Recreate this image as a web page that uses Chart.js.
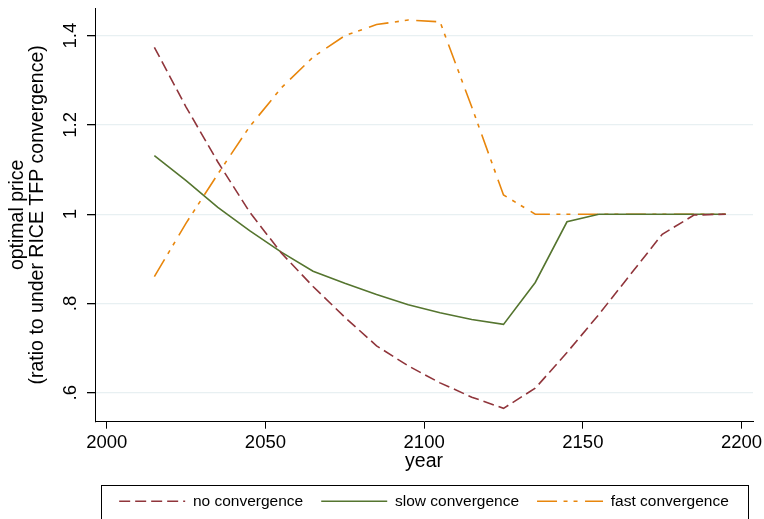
<!DOCTYPE html>
<html lang="en">
<head>
    <meta charset="UTF-8">
    <title>Optimal price</title>
    <script src="https://cdn.jsdelivr.net/npm/chart.js"></script>
    <style>
        body { margin: 0; background: #fff; }
    </style>
</head>
<body>
    <canvas id="priceChart" width="764" height="519"></canvas>

    <script>
        const years = [2015, 2025, 2035, 2045, 2055, 2065, 2075, 2085, 2095, 2105,
                       2115, 2125, 2135, 2145, 2155, 2165, 2175, 2185, 2195];
        const noConvergence = [1.374, 1.24, 1.117, 1.005, 0.913, 0.838, 0.769, 0.705, 0.66, 0.622,
                               0.59, 0.565, 0.61, 0.69, 0.775, 0.865, 0.955, 0.998, 1.0];
        const slowConvergence = [1.131, 1.075, 1.015, 0.963, 0.915, 0.872, 0.845, 0.82, 0.797, 0.779,
                                 0.764, 0.753, 0.847, 0.983, 1.0, 1.0, 1.0, 1.0, 1.0];
        const fastConvergence = [0.86, 0.98, 1.09, 1.196, 1.283, 1.352, 1.40, 1.425, 1.435, 1.431,
                                 1.24, 1.043, 1.0, 1.0, 1.0, 1.0, 1.0, 1.0, 1.0];
        const xTicks = [2000, 2050, 2100, 2150, 2200];
        const yTicks = [0.6, 0.8, 1, 1.2, 1.4];
        const yTickLabels = ['.6', '.8', '1', '1.2', '1.4'];

        const font = 'Liberation Sans, Arial, Helvetica, sans-serif';

        const series = (vals) => years.map((y, i) => ({ x: y, y: vals[i] }));

        // box around the legend, like Stata draws it
        const legendFrame = {
            id: 'legendFrame',
            afterDraw(chart) {
                const lg = chart.legend;
                const ctx = chart.ctx;
                ctx.save();
                ctx.strokeStyle = '#000';
                ctx.lineWidth = 1;
                ctx.strokeRect(Math.round(lg.left + 6) + 0.5, Math.round(lg.top + 9) + 0.5,
                               Math.round(lg.right - lg.left - 11), 60);
                ctx.restore();
            }
        };

        new Chart(document.getElementById('priceChart'), {
            type: 'line',
            data: {
                datasets: [{
                    label: 'no convergence',
                    data: series(noConvergence),
                    borderColor: 'rgb(144, 53, 59)',
                    borderDash: [11, 5],
                    borderWidth: 1.6,
                }, {
                    label: 'slow convergence',
                    data: series(slowConvergence),
                    borderColor: 'rgb(85, 117, 47)',
                    borderWidth: 1.6,
                }, {
                    label: 'fast convergence',
                    data: series(fastConvergence),
                    borderColor: 'rgb(232, 134, 12)',
                    borderDash: [20, 6.5, 4, 6, 4, 7.5],
                    borderWidth: 1.6,
                }]
            },
            options: {
                responsive: false,
                animation: false,
                devicePixelRatio: 1,
                elements: { point: { radius: 0 }, line: { tension: 0, fill: false } },
                layout: { padding: { left: 0, right: 11, top: 8, bottom: 0 } },
                plugins: {
                    tooltip: { enabled: false },
                    legend: {
                        position: 'bottom',
                        fullSize: false,
                        labels: {
                            usePointStyle: true,
                            pointStyleWidth: 66,
                            padding: 18,
                            color: '#000',
                            font: { family: font, size: 15.5 },
                            generateLabels(chart) {
                                return chart.data.datasets.map((ds, i) => ({
                                    text: ds.label,
                                    strokeStyle: ds.borderColor,
                                    fillStyle: ds.borderColor,
                                    lineWidth: ds.borderWidth,
                                    lineDash: ds.borderDash || [],
                                    pointStyle: 'line',
                                    fontColor: '#000',
                                    datasetIndex: i
                                }));
                            }
                        }
                    }
                },
                scales: {
                    x: {
                        type: 'linear',
                        min: 1996.3,
                        max: 2203.6,
                        afterFit(scale) {
                            scale.height = 53.8;
                            scale.paddingLeft = 0;
                            scale.paddingRight = 0;
                        },
                        afterBuildTicks(scale) { scale.ticks = xTicks.map(v => ({ value: v })); },
                        border: { display: true, color: '#000', width: 1 },
                        grid: { drawOnChartArea: false, tickColor: '#000', tickLength: 7 },
                        ticks: {
                            autoSkip: false,
                            maxRotation: 0,
                            padding: 3,
                            color: '#000',
                            font: { family: font, size: 18.5 },
                            callback: (v) => String(v)
                        },
                        title: {
                            display: true,
                            text: 'year',
                            color: '#000',
                            font: { family: font, size: 19.5 },
                            padding: { top: 0, bottom: 2.6 }
                        }
                    },
                    y: {
                        min: 0.535,
                        max: 1.462,
                        afterFit(scale) {
                            scale.width = 95;
                            scale.paddingTop = 0;
                            scale.paddingBottom = 0;
                        },
                        afterBuildTicks(scale) { scale.ticks = yTicks.map(v => ({ value: v })); },
                        border: { display: true, color: '#000', width: 1 },
                        grid: { color: '#e8f0f2', lineWidth: 1.3, tickColor: '#000', tickLength: 8 },
                        ticks: {
                            autoSkip: false,
                            minRotation: 90,
                            maxRotation: 90,
                            crossAlign: 'center',
                            padding: 3.4,
                            color: '#000',
                            font: { family: font, size: 18.5 },
                            callback: (v) => yTickLabels[yTicks.indexOf(v)]
                        },
                        title: {
                            display: true,
                            text: ['optimal price', '(ratio to under RICE TFP convergence)'],
                            color: '#000',
                            font: { family: font, size: 19.5, lineHeight: 1.05 },
                            padding: { top: 7.3, bottom: 0 }
                        }
                    }
                }
            },
            plugins: [legendFrame]
        });
    </script>
</body>
</html>
